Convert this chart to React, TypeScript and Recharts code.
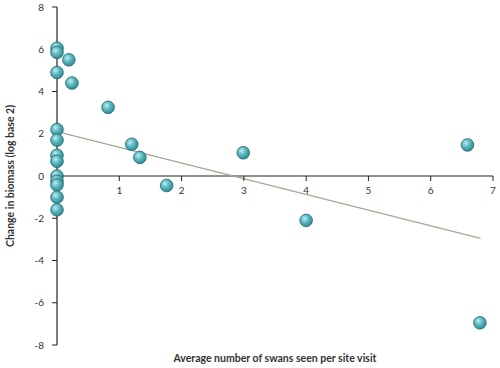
import React from "react";
import {
  ScatterChart,
  Scatter,
  XAxis,
  YAxis,
  ReferenceLine,
  ReferenceDot,
} from "recharts";

const swansX = [0, 0, 0.19, 0, 0.24, 0.82, 0, 0, 0, 0, 0, 0, 0, 0, 0, 1.2, 1.33, 1.76, 2.99, 4.0, 6.59, 6.79];
const biomassY = [6.05, 5.85, 5.5, 4.9, 4.4, 3.25, 2.2, 1.7, 0.98, 0.7, 0, -0.25, -0.42, -1.0, -1.6, 1.5, 0.88, -0.45, 1.1, -2.1, 1.47, -6.95];
const trendX = [0, 6.8];
const trendY = [2.1, -2.95];
const xTicks = [1, 2, 3, 4, 5, 6, 7];
const yTicks = [-8, -6, -4, -2, 0, 2, 4, 6, 8];

const points = swansX.map((x, i) => ({ x, y: biomassY[i] }));
const FONT = "Lato, 'Open Sans', sans-serif";

const Ball = (props: any) => {
  const { cx, cy } = props;
  if (cx == null || cy == null) return null;
  return (
    <g>
      <circle cx={cx} cy={cy} r={6.3} fill="url(#ballGrad)" stroke="#2b6e78" strokeWidth={0.9} />
    </g>
  );
};

const XTickMark = (props: any) => {
  const { cx, cy, value } = props;
  if (cx == null || cy == null) return null;
  return (
    <g>
      <line x1={cx} y1={cy} x2={cx} y2={cy + 5} stroke="#222" strokeWidth={1} />
      <text x={cx} y={cy + 18} textAnchor="middle" fontSize={10} fill="#333" fontFamily={FONT}>
        {value}
      </text>
    </g>
  );
};

export default function App() {
  return (
    <div style={{ position: "absolute", left: 0, top: 0, background: "#fff" }}>
      <ScatterChart width={500} height={368} margin={{ top: 7, right: 7, bottom: 0, left: 0 }}>
        <defs>
          <radialGradient id="ballGrad" cx="0.38" cy="0.35" r="0.7">
            <stop offset="0%" stopColor="#bdeef0" />
            <stop offset="45%" stopColor="#5cb8bf" />
            <stop offset="100%" stopColor="#2a8791" />
          </radialGradient>
        </defs>
        <XAxis
          type="number"
          dataKey="x"
          domain={[0, 7]}
          height={23}
          axisLine={false}
          tickLine={false}
          tick={false}
          label={{
            value: "Average number of swans seen per site visit",
            position: "insideBottom",
            offset: 6,
            style: { fontSize: 10.5, fontWeight: 700, fill: "#333", fontFamily: FONT },
          }}
        />
        <YAxis
          type="number"
          dataKey="y"
          domain={[-8, 8]}
          ticks={yTicks}
          width={57}
          axisLine={{ stroke: "#222", strokeWidth: 1.2 }}
          tickLine={{ stroke: "#222" }}
          tickSize={5}
          tickMargin={8}
          tick={{ fontSize: 10, fill: "#333", fontFamily: FONT }}
          label={{
            value: "Change in biomass (log base 2)",
            angle: -90,
            position: "insideLeft",
            offset: 10,
            style: { textAnchor: "middle", fontSize: 10.5, fontWeight: 700, fill: "#333", fontFamily: FONT },
          }}
        />
        <ReferenceLine y={0} stroke="#222" strokeWidth={1.2} />
        {xTicks.map((t) => (
          <ReferenceDot key={t} x={t} y={0} r={0} shape={(p: any) => <XTickMark {...p} value={t} />} />
        ))}
        <ReferenceLine
          segment={[
            { x: trendX[0], y: trendY[0] },
            { x: trendX[1], y: trendY[1] },
          ]}
          stroke="#a3aa93"
          strokeWidth={1.3}
        />
        <Scatter data={points} shape={Ball} isAnimationActive={false} />
      </ScatterChart>
    </div>
  );
}
